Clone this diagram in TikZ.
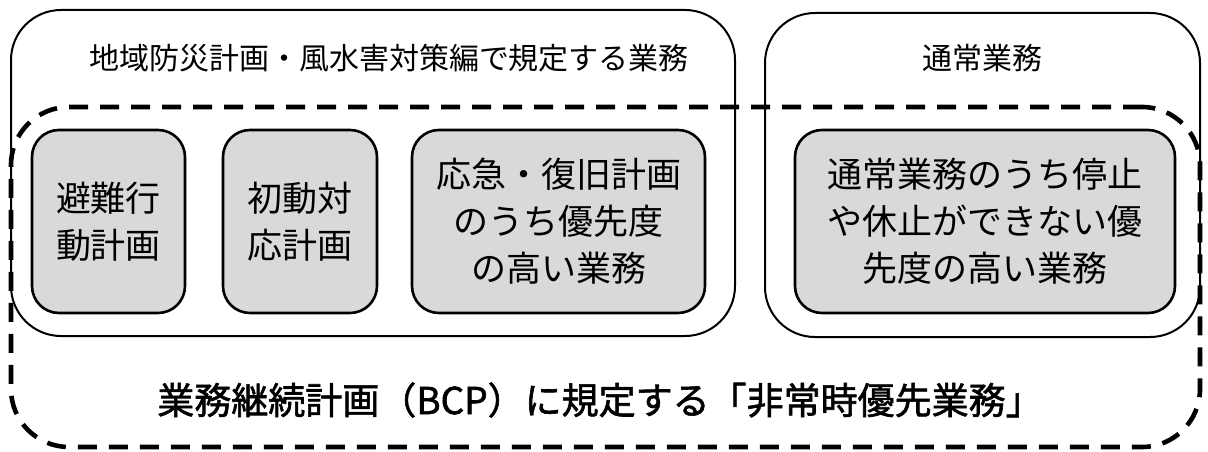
\documentclass[tikz,border=0pt]{standalone}
\usepackage{fontspec}
\usepackage{tikz}
\newfontfamily\jpfont{Noto Sans CJK JP}
\newfontfamily\jpheavy[FakeBold=1.6]{Noto Sans CJK JP}
\definecolor{taskgray}{HTML}{D9D9D9}
\tikzset{
	groupbox/.style = {draw, line width=2pt, rounded corners=50pt, inner sep=0pt},
	bcpbox/.style = {draw, line width=4.6pt, dash pattern=on 19pt off 12pt, rounded corners=58pt, inner sep=0pt},
	taskbox/.style = {draw, fill=taskgray, line width=2.6pt, rounded corners=27pt, inner sep=0pt, align=center, font=\jpfont\fontsize{35}{47}\selectfont},
	grouptitle/.style = {font=\jpfont\fontsize{30}{36}\selectfont},
}

\begin{document}
\begin{tikzpicture}[x=1pt, y=-1pt]
		\useasboundingbox (0,0) rectangle (1208,452);
		% groups
		\node[groupbox, minimum width=724pt, minimum height=326pt] (plan) at (373,173) {};
		\node[groupbox, minimum width=435pt, minimum height=324pt] (normal) at (982.5,175) {};
		\node[grouptitle] (plantitle) at (389,58) {地域防災計画・風水害対策編で規定する業務};
		\node[grouptitle] (normaltitle) at (982,58) {通常業務};
		% tasks
		\node[taskbox, minimum width=153pt, minimum height=183pt] (evac) at (108.5,221.5) {避難行\\動計画};
		\node[taskbox, minimum width=154pt, minimum height=183pt] (initial) at (300,221.5) {初動対\\応計画};
		\node[taskbox, minimum width=293pt, minimum height=183pt] (recovery) at (558.5,221.5) {応急・復旧計画\\のうち優先度\\の高い業務};
		\node[taskbox, minimum width=380pt, minimum height=183pt] (keep) at (985,221.5) {通常業務のうち停止\\や休止ができない優\\先度の高い業務};
		% BCP
		\node[bcpbox, minimum width=1189pt, minimum height=340pt] (bcp) at (605.5,277) {};
		\node[font=\jpheavy\fontsize{37}{42}\selectfont] (bcptitle) at (600,400) {業務継続計画（BCP）に規定する「非常時優先業務」};
	\end{tikzpicture}
\end{document}
